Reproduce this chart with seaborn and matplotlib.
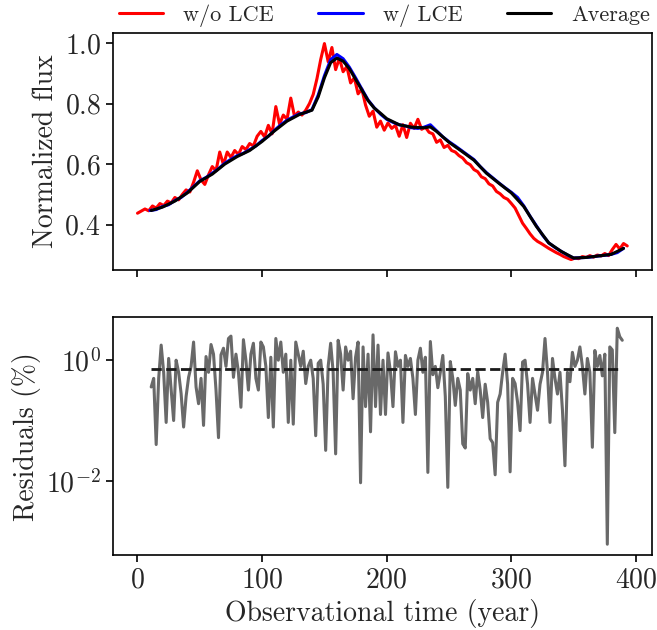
import numpy as np
import seaborn as sns
import matplotlib.pyplot as plt
from matplotlib.ticker import FixedLocator, NullLocator

# Normalized flux without LCE (every 3 years from year 0)
red_flux = [0.438, 0.445, 0.452, 0.446, 0.462, 0.455, 0.470, 0.463, 0.478, 0.472,
            0.490, 0.482, 0.500, 0.515, 0.508, 0.540, 0.578, 0.548, 0.533, 0.565,
            0.592, 0.578, 0.640, 0.598, 0.640, 0.622, 0.645, 0.632, 0.658, 0.648,
            0.668, 0.660, 0.692, 0.708, 0.690, 0.728, 0.700, 0.790, 0.732, 0.762,
            0.748, 0.818, 0.758, 0.772, 0.762, 0.778, 0.800, 0.830, 0.882, 0.945,
            0.998, 0.938, 0.985, 0.912, 0.950, 0.905, 0.922, 0.868, 0.885, 0.832,
            0.848, 0.795, 0.758, 0.775, 0.722, 0.742, 0.712, 0.736, 0.718, 0.728,
            0.692, 0.730, 0.688, 0.735, 0.718, 0.748, 0.715, 0.722, 0.705, 0.700,
            0.672, 0.680, 0.655, 0.662, 0.645, 0.640, 0.628, 0.620, 0.605, 0.598,
            0.582, 0.575, 0.558, 0.552, 0.535, 0.528, 0.510, 0.502, 0.490, 0.484,
            0.470, 0.455, 0.430, 0.405, 0.388, 0.370, 0.355, 0.345, 0.338, 0.330,
            0.322, 0.315, 0.308, 0.302, 0.295, 0.290, 0.285, 0.290, 0.288, 0.295,
            0.292, 0.298, 0.293, 0.300, 0.297, 0.305, 0.298, 0.318, 0.335, 0.320,
            0.338, 0.330]
red_years = np.arange(len(red_flux)) * 3

# Normalized flux with LCE (every 5 years from year 10)
blue_flux = [0.447, 0.450, 0.460, 0.466, 0.480, 0.490, 0.507, 0.526, 0.545, 0.556,
             0.570, 0.585, 0.603, 0.616, 0.628, 0.636, 0.648, 0.660, 0.678, 0.692,
             0.712, 0.730, 0.745, 0.756, 0.766, 0.770, 0.780, 0.828, 0.892, 0.945,
             0.962, 0.948, 0.920, 0.885, 0.848, 0.812, 0.786, 0.765, 0.748, 0.738,
             0.730, 0.726, 0.720, 0.718, 0.722, 0.730, 0.710, 0.690, 0.674, 0.660,
             0.645, 0.630, 0.615, 0.592, 0.572, 0.555, 0.538, 0.522, 0.507, 0.490,
             0.462, 0.428, 0.397, 0.366, 0.340, 0.325, 0.312, 0.300, 0.290, 0.291,
             0.292, 0.294, 0.297, 0.299, 0.302, 0.308, 0.322]
blue_years = 10 + np.arange(len(blue_flux)) * 5

# Average
avg_years = [11, 20, 30, 40, 50, 60, 70, 80, 90, 100, 110, 120, 130, 140, 145,
             150, 155, 160, 165, 170, 175, 180, 185, 190, 195, 200, 210, 220, 230,
             235, 240, 250, 260, 270, 280, 290, 300, 310, 320, 330, 340, 350, 360,
             370, 380, 390]
avg_flux = [0.447, 0.458, 0.478, 0.505, 0.543, 0.567, 0.600, 0.625, 0.645, 0.675,
            0.710, 0.742, 0.764, 0.778, 0.822, 0.885, 0.935, 0.950, 0.940, 0.915,
            0.880, 0.845, 0.810, 0.785, 0.768, 0.750, 0.730, 0.722, 0.720, 0.723,
            0.708, 0.672, 0.643, 0.613, 0.570, 0.537, 0.505, 0.460, 0.395, 0.340,
            0.312, 0.290, 0.292, 0.297, 0.302, 0.322]

# Residuals in percent (every 2 years from year 11)
residuals = [0.36, 0.50, 0.040, 0.50, 1.78, 0.63, 0.093, 1.07, 0.32, 0.10,
             1.00, 0.63, 0.28, 0.078, 0.25, 0.52, 0.79, 2.00, 0.36, 0.19,
             0.50, 0.083, 1.15, 0.63, 1.82, 1.26, 0.32, 0.052, 1.23, 1.58,
             0.79, 2.29, 2.51, 0.52, 1.26, 0.63, 0.166, 2.19, 1.00, 0.32,
             1.26, 1.91, 0.50, 0.32, 2.00, 1.66, 0.79, 0.112, 1.12, 0.078,
             2.29, 1.00, 2.00, 0.63, 1.26, 0.093, 1.00, 0.087, 2.00, 1.26,
             0.79, 1.41, 0.41, 0.79, 1.00, 0.50, 0.056, 0.89, 1.00, 0.40,
             0.032, 0.79, 1.91, 0.63, 0.028, 2.14, 1.26, 0.32, 1.66, 1.00,
             1.41, 0.23, 1.12, 2.00, 0.0093, 1.66, 0.17, 1.26, 0.065, 2.63,
             0.17, 1.78, 0.126, 1.00, 0.126, 1.32, 0.63, 0.17, 1.38, 0.79,
             1.00, 0.093, 1.20, 0.79, 1.07, 0.50, 0.126, 1.00, 1.58, 0.63,
             1.12, 0.0138, 2.04, 0.575, 0.79, 0.35, 0.63, 1.20, 0.25, 0.0078,
             0.95, 0.50, 0.178, 0.50, 0.32, 0.041, 0.035, 0.60, 0.32, 0.50,
             0.19, 0.645, 0.32, 0.112, 0.40, 0.20, 0.050, 0.043, 0.0126, 0.20,
             0.275, 0.63, 1.26, 0.40, 0.0141, 0.50, 0.41, 0.20, 0.068, 0.93,
             1.00, 0.40, 0.093, 0.50, 0.275, 0.148, 0.40, 0.63, 2.29, 0.63,
             0.093, 1.07, 0.50, 0.275, 0.63, 0.148, 0.0178, 0.63, 0.44, 1.35,
             0.79, 1.00, 1.66, 0.79, 0.275, 1.07, 0.63, 0.036, 1.45, 0.79,
             1.20, 0.55, 1.26, 0.00089, 1.66, 1.48, 0.063, 3.39, 2.45, 2.14]
res_years = 11 + np.arange(len(residuals)) * 2
avg_residual = 0.71

sns.set_theme(style="ticks")
plt.rcParams["font.family"] = "serif"
plt.rcParams["font.serif"] = ["cmr10"]
plt.rcParams["mathtext.fontset"] = "cm"
plt.rcParams["axes.formatter.use_mathtext"] = True
plt.rcParams["axes.edgecolor"] = "black"
plt.rcParams["axes.linewidth"] = 1.2

fig, axes = plt.subplots(2, 1, sharex=True, figsize=(6.57, 6.3), dpi=100)
fig.subplots_adjust(left=0.172, right=0.992, top=0.948, bottom=0.119, hspace=0.198)

ax = axes[0]
sns.lineplot(x=red_years, y=red_flux, color="red", linewidth=2.2, label="w/o LCE", ax=ax)
sns.lineplot(x=blue_years, y=blue_flux, color="blue", linewidth=2.2, label="w/ LCE", ax=ax)
sns.lineplot(x=avg_years, y=avg_flux, color="black", linewidth=2.2, label="Average", ax=ax)
ax.set_ylabel("Normalized flux", fontsize=20)
ax.set_yticks([0.4, 0.6, 0.8, 1.0])
handles, labels = ax.get_legend_handles_labels()
ax.get_legend().remove()
fig.legend(handles, labels, loc="upper center", ncol=3, frameon=False,
           bbox_to_anchor=(0.585, 1.025), fontsize=16, handlelength=2.0,
           handletextpad=0.9, columnspacing=2.0)

ax2 = axes[1]
sns.lineplot(x=res_years, y=residuals, color="dimgray", linewidth=2.2, ax=ax2)
ax2.plot(res_years[:-1], np.full(len(res_years) - 1, avg_residual), "k--", linewidth=2)
ax2.set_yscale("log")
ax2.yaxis.set_major_locator(FixedLocator([1e-2, 1e0]))
ax2.yaxis.set_minor_locator(NullLocator())
ax2.set_ylabel("Residuals (%)", fontsize=20)
ax2.set_xlabel("Observational time (year)", fontsize=20)
ax2.set_xticks([0, 100, 200, 300, 400])

for a in axes:
    a.tick_params(labelsize=20, length=5, width=1.2, color="black")

fig.savefig("out.png", dpi=100)
